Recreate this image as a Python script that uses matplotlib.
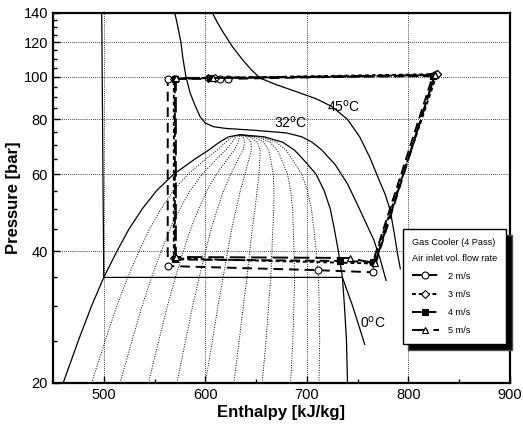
import matplotlib
matplotlib.use("Agg")
import matplotlib.pyplot as plt
import numpy as np
from matplotlib.ticker import FixedLocator, FixedFormatter, NullFormatter

plt.rcParams['font.family'] = ['Liberation Sans', 'DejaVu Sans']

# saturation dome (pressure [bar], sat. liquid / sat. vapour enthalpy [kJ/kg])
p_sat = [20, 25, 30, 34.85, 40, 45, 50, 55, 60, 65, 68, 71, 73, 73.8]
h_liq = [460, 475, 488, 500, 513, 525, 538, 552, 569, 590, 603, 614, 623, 634]
h_vap = [740, 739, 737, 735, 731, 727, 723, 717, 709, 696, 688, 676, 658, 634]
qualities = [0.1, 0.2, 0.3, 0.4, 0.5, 0.6, 0.7, 0.8, 0.9]

# isotherms
iso0_h = [498, 500, 735, 745, 757]
iso0_p = [140, 34.85, 34.85, 30, 24.5]
iso32_h = [570, 573, 576, 578, 581, 585, 590, 595, 600, 608, 620, 650, 680, 695, 705,
           715, 728, 740, 750, 758, 766, 772, 778]
iso32_p = [140, 130, 120, 110, 100, 92, 86, 81, 78.5, 77, 76.3, 75.5, 74.5, 73, 71,
           68, 63, 57, 51, 46.5, 42.4, 38.5, 34.3]
iso45_h = [607, 612, 618, 627, 636, 645, 654, 670, 690, 710, 725, 740, 752, 762, 770,
           777, 782, 786, 789, 792]
iso45_p = [140, 133, 126, 117, 110, 104, 99.4, 96, 92.5, 89, 85.5, 80, 73, 65.5, 59,
           54, 49.7, 44, 39.8, 36.5]

# measured cycles, one per air inlet velocity
labels = ['2 m/s', '3 m/s', '4 m/s', '5 m/s']
cyc_h = [
    [826, 622, 614, 563, 563, 711, 765, 826],
    [828, 610, 603, 569, 569, 765, 828],
    [824, 605, 570, 570, 733, 765, 824],
    [826, 608, 571, 571, 742, 767, 826],
]
cyc_p = [
    [101, 99, 99, 99, 37.0, 36.2, 35.8, 101],
    [101.5, 99.5, 99.5, 99, 38.5, 37.5, 101.5],
    [100.5, 99.5, 99, 38.3, 38.0, 37.8, 100.5],
    [101, 99.5, 99.5, 38.8, 38.6, 37.5, 101],
]

fig = plt.figure(figsize=(5.23, 4.33), dpi=100)
ax = fig.add_axes([0.1013, 0.1155, 0.8738, 0.8545])
ax.set_yscale('log')

# dome and quality lines
ax.plot(h_liq, p_sat, color='k', lw=0.9)
ax.plot(h_vap, p_sat, color='k', lw=0.9)
hl = np.array(h_liq)
hv = np.array(h_vap)
for q in qualities:
    ax.plot(hl + q * (hv - hl), p_sat, color='k', lw=0.7, ls=(0, (1, 1.5)))

ax.plot(iso0_h, iso0_p, color='k', lw=0.9)
ax.plot(iso32_h, iso32_p, color='k', lw=0.9)
ax.plot(iso45_h, iso45_p, color='k', lw=0.9)
ax.text(736, 85.4, '45$^{\\rm o}$C', fontsize=10, ha='center', va='center')
ax.text(684, 78.6, '32$^{\\rm o}$C', fontsize=10, ha='center', va='center')
ax.text(765, 27.5, '0$^{\\rm o}$C', fontsize=10, ha='center', va='center')

styles = [
    dict(ls=(0, (5, 3)), marker='o', mfc='white', ms=5),
    dict(ls=(0, (2, 1.5)), marker='D', mfc='white', ms=4),
    dict(ls=(0, (5, 2.5)), marker='s', mfc='k', ms=4),
    dict(ls=(0, (8, 3)), marker='^', mfc='white', ms=5),
]
for lab, h, p, st in zip(labels, cyc_h, cyc_p, styles):
    ax.plot(h, p, color='k', lw=1.4, mec='k', mew=0.8, label=lab, **st)

ax.set_xlim(450, 900)
ax.set_ylim(20, 140)
ax.yaxis.set_major_locator(FixedLocator([20, 40, 60, 80, 100, 120, 140]))
ax.yaxis.set_minor_locator(FixedLocator([v for v in range(25, 140, 5) if v % 20 != 0]))
ax.yaxis.set_major_formatter(FixedFormatter(['20', '40', '60', '80', '100', '120', '140']))
ax.yaxis.set_minor_formatter(NullFormatter())
ax.xaxis.set_major_locator(FixedLocator([500, 600, 700, 800, 900]))
ax.xaxis.set_minor_locator(FixedLocator([550, 650, 750, 850]))
ax.tick_params(which='both', direction='in', top=False, right=False, labelsize=10.5)
ax.tick_params(which='major', length=5, width=1)
ax.tick_params(which='minor', length=3, width=1)
ax.grid(True, which='major', color='k', ls=(0, (1, 1.5)), lw=0.6)
for s in ax.spines.values():
    s.set_linewidth(1.6)

ax.set_xlabel('Enthalpy [kJ/kg]', fontsize=12, fontweight='bold', labelpad=2)
ax.set_ylabel('Pressure [bar]', fontsize=12, fontweight='bold', labelpad=2)

leg = ax.legend(title='Gas Cooler (4 Pass)\nAir inlet vol. flow rate', loc='upper left',
                bbox_to_anchor=(0.765, 0.416), fontsize=6.6, title_fontsize=6.6,
                fancybox=False, edgecolor='k', framealpha=1, handlelength=3,
                handletextpad=1.0, shadow={'ox': 4, 'oy': -4, 'facecolor': 'k', 'alpha': 1},
                borderpad=1.0, labelspacing=1.0, borderaxespad=0)
leg.get_frame().set_linewidth(1.0)
leg.get_title().set_linespacing(1.9)
leg._legend_box.align = 'left'

fig.savefig('out.png', dpi=100)
